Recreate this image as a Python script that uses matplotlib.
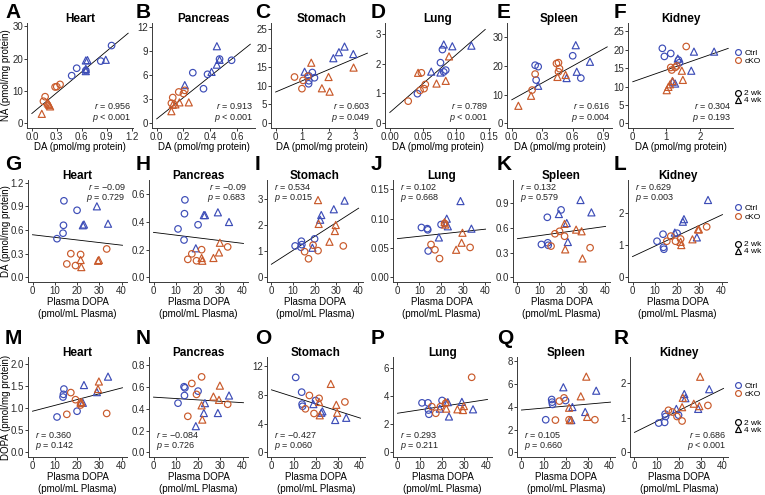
import numpy as np
import matplotlib
matplotlib.use('Agg')
import matplotlib.pyplot as plt
from matplotlib.lines import Line2D

plt.rcParams['font.family'] = ['Liberation Sans', 'DejaVu Sans']
plt.rcParams['mathtext.fontset'] = 'custom'
plt.rcParams['mathtext.it'] = 'Liberation Sans:italic'
plt.rcParams['mathtext.rm'] = 'Liberation Sans'

# ---------------- data (group order: Ctrl 2wk, Ctrl 4wk, cKO 2wk, cKO 4wk) ----------------
tissues = ['Heart', 'Pancreas', 'Stomach', 'Lung', 'Spleen', 'Kidney']
letters = ['A', 'B', 'C', 'D', 'E', 'F', 'G', 'H', 'I', 'J', 'K', 'L', 'M', 'N', 'O', 'P', 'Q', 'R']
group_labels = ['Ctrl', 'cKO']
age_labels = ['2 wk', '4 wk']

nan = np.nan
# Row 1: NA vs DA
A_da = [[0.48, 0.54, 0.65, 0.83, 0.96], [0.65, 0.67, 0.65, 0.65, 0.89], [0.14, 0.16, 0.28, 0.30, 0.34], [0.12, 0.19, 0.20, 0.21, 0.22]]
A_na = [[14.7, 17.0, 16.3, 19.2, 24.0], [19.4, 19.5, 16.8, 16.1, 19.6], [6.8, 8.2, 11.2, 11.3, 12.0], [2.9, 6.4, 6.0, 5.6, 5.2]]
B_da = [[0.27, 0.35, 0.38, 0.47, 0.56], [0.21, 0.41, 0.45, 0.45, 0.47], [0.11, 0.12, 0.165, 0.20, 0.21], [0.11, 0.12, 0.14, 0.17, 0.24]]
B_na = [[6.3, 4.3, 6.1, 8.0, 7.85], [4.75, 6.4, 7.3, 9.6, 7.9], [2.5, 3.2, 3.9, 3.7, 4.1], [1.5, 2.3, 2.35, 2.6, 2.6]]
C_da = [[1.24, 1.25, 1.25, 1.38, 1.46], [1.09, 2.17, 2.38, 2.59, 2.92], [0.71, 0.99, 1.03, 1.21], [1.34, 1.74, 1.99, 2.03, 2.93]]
C_na = [[10.5, 11.3, 12.6, 13.5, 12.1], [13.7, 17.3, 18.9, 20.4, 18.4], [12.3, 9.2, 11.4, 12.5], [16.1, 9.3, 12.3, 8.4, 14.8]]
D_da = [[0.042, 0.077, 0.080, 0.082, 0.085], [0.063, 0.077, 0.082, 0.095, 0.124], [0.028, 0.046, 0.048, 0.052, 0.054], [0.043, 0.071, 0.085, 0.090]]
D_na = [[0.99, 2.03, 2.47, 1.72, 1.78], [1.73, 1.70, 2.64, 2.58, 2.60], [0.74, 1.10, 1.69, 1.16, 1.30], [1.69, 1.33, 1.42, 2.24]]
E_da = [[0.23, 0.26, 0.24, 0.60, 0.68], [0.26, 0.54, 0.64, 0.77, 0.63], [0.20, 0.23, 0.44, 0.46, 0.47, 0.46], [0.065, 0.19, 0.45, 0.53]]
E_na = [[20.3, 19.8, 15.1, 23.6, 15.8], [13.1, 15.8, 18.0, 21.5, 27.3], [11.6, 17.2, 20.9, 21.2, 19.1, 18.0], [6.1, 9.6, 16.2, 16.9]]
F_da = [[0.88, 0.94, 1.13, 1.36, 1.39], [1.19, 1.26, 1.34, 1.74, 1.82, 2.42], [1.13, 1.16, 1.26, 1.31, 1.59], [1.01, 1.06, 1.11, 1.18, 1.46, 1.49]]
F_na = [[20.4, 18.2, 19.0, 17.2, 16.5], [11.3, 10.8, 17.6, 14.3, 19.5, 19.5], [15.2, 14.5, 15.2, 15.6, 20.9], [9.0, 9.9, 10.6, 11.5, 14.3, 11.8]]

# Rows 2-3: x = plasma DOPA
plasma_dopa = [[11.0, 13.7, 13.9, 14.1, 20.0], [19.0, 22.6, 23.1, 28.9, 33.9], [15.4, 17.2, 19.3, 21.6, 33.3], [21.6, 21.9, 26.9, 29.4, 29.8]]
# Row 2: tissue DA
G_da = [[0.49, 0.56, 0.66, 0.97, 0.85], [nan, 0.66, 0.67, 0.90, 0.68], [0.17, 0.30, 0.15, 0.29, 0.36], [0.22, 0.13, nan, 0.21, 0.22]]
H_da = [[0.35, 0.27, 0.46, 0.56, 0.38], [0.21, 0.45, 0.45, 0.47, 0.40], [0.13, 0.17, 0.12, 0.20, 0.22], [0.14, 0.12, 0.14, 0.18, 0.25]]
I_da = [[1.20, 1.15, 1.38, 1.25, 1.47], [1.13, 2.20, 2.38, 2.60, 2.93], [0.98, 0.71, 1.23, 1.02, 1.20], [2.95, 2.04, 1.36, 1.77, 2.00]]
J_da = [[0.085, 0.083, 0.081, 0.045, 0.090], [0.068, 0.100, 0.087, 0.130, 0.083], [0.056, 0.047, 0.032, 0.092, 0.051], [0.094, 0.090, 0.047, 0.059, 0.076]]
K_da = [[0.40, 0.73, 0.42, 0.39, 0.82], [0.77, 0.66, 0.43, 0.94, 0.79], [0.38, 0.53, 0.56, 0.50, 0.36], [0.65, 0.34, 0.58, 0.56, 0.23]]
L_da = [[1.13, 1.35, 0.94, 0.88, 1.38], [1.40, 1.74, 1.82, 1.25, 2.42], [1.13, 1.29, 1.13, 1.20, 1.58], [1.11, 1.01, 1.19, 1.50, 1.50]]
# Row 3: tissue DOPA
M_dopa = [[0.80, 1.25, 1.31, 1.43, 0.93], [nan, 1.12, 1.52, 1.36, 1.71], [0.86, 1.35, 1.19, 1.07, 0.88], [1.12, 1.14, nan, 1.43, 1.60]]
N_dopa = [[0.45, 0.60, 0.52, 0.59, 0.56], [0.24, 0.36, 0.45, 0.36, 0.52], [0.33, 0.63, 0.53, 0.69, 0.44], [0.43, 0.30, 0.51, 0.48, 0.61]]
O_dopa = [[10.4, 8.36, 6.7, 6.4, 7.2], [6.7, 5.5, 5.7, 4.5, 4.8], [6.05, 7.9, 5.4, 7.5, 7.0], [7.0, 5.15, 9.5, 6.6, 5.5]]
P_dopa = [[3.53, 3.53, 3.02, 2.72, 3.70], [3.12, 3.58, 2.56, 3.60, 3.07], [3.26, 2.79, 3.26, 3.50, 5.35], [3.58, 3.12, 3.07, 3.02, 3.30]]
Q_dopa = [[2.86, 4.63, 4.40, 4.20, 4.54], [5.70, 2.83, 3.97, 3.54, 5.40], [2.83, 4.49, 4.77, 2.86, 2.86], [3.91, 2.83, 4.91, 6.63, 3.11]]
R_dopa = [[0.85, 0.87, 1.11, 1.04, 1.08], [1.26, 1.69, 1.57, 1.26, 1.83], [1.22, 1.17, 1.04, 0.91, 1.36], [1.31, 1.58, 1.41, 1.34, 2.19]]

# regression lines (intercept, slope)
fit_intercept = [3.0, 0.54, 8.3, 0.36, 8.2, 11.3,
                 0.54, 0.325, 0.50, 0.066, 0.47, 0.65,
                 0.93, 0.505, 8.68, 2.79, 3.71, 0.58]
fit_slope = [21.4, 13.3, 3.0, 19.2, 19.7, 3.2,
             -0.0033, -0.00198, 0.053, 0.0004, 0.0037, 0.0325,
             0.0131, -0.00126, -0.0973, 0.0243, 0.0171, 0.0315]

r_values = ['0.956', '0.913', '0.603', '0.789', '0.616', '0.304',
            '\u22120.09', '\u22120.09', '0.534', '0.102', '0.132', '0.629',
            '0.360', '\u22120.084', '\u22120.427', '0.293', '0.105', '0.686']
p_values = ['< 0.001', '< 0.001', '= 0.049', '< 0.001', '= 0.004', '= 0.193',
            '= 0.729', '= 0.683', '= 0.015', '= 0.668', '= 0.579', '= 0.003',
            '= 0.142', '= 0.726', '= 0.060', '= 0.211', '= 0.660', '< 0.001']

row1_x = [A_da, B_da, C_da, D_da, E_da, F_da]
row1_y = [A_na, B_na, C_na, D_na, E_na, F_na]
row2_y = [G_da, H_da, I_da, J_da, K_da, L_da]
row3_y = [M_dopa, N_dopa, O_dopa, P_dopa, Q_dopa, R_dopa]

# ---------------- layout / style ----------------
W, H = 765, 495
fig = plt.figure(figsize=(W / 100, H / 100), dpi=100)

CTRL = '#3D4DB7'
CKO = '#C95A2B'
AX_COL = '#3a3a3a'

rows_tb = [(23, 128), (180, 282), (357, 457)]
cols = [
    [(27, 133), (152, 255), (271, 372), (385, 490), (507, 612), (628, 733)],
    [(28, 127), (149, 248), (267, 363), (393, 490), (513, 610), (628, 727)],
    [(28, 127), (149, 248), (267, 365), (393, 492), (517, 615), (630, 728)],
]
x_max = [1.16, 0.70, 3.45, 0.145, 0.94, 2.84] + [40.4] * 12
y_max = [29.5, 11.9, 25.4, 3.2, 33.4, 26.0,
         1.175, 0.67, 3.54, 0.158, 1.127, 2.9,
         2.05, 0.83, 12.6, 6.47, 7.95, 2.63]
x_ticks = [[0, 0.3, 0.6, 0.9, 1.2], [0, 0.2, 0.4, 0.6], [0, 1, 2, 3], [0, 0.05, 0.10, 0.15],
           [0, 0.3, 0.6, 0.9], [0, 1, 2]] + [[0, 10, 20, 30, 40]] * 12
x_dec = [1, 1, 0, 2, 1, 0] + [0] * 12
y_ticks = [[0, 10, 20, 30], [0, 3, 6, 9, 12], [0, 5, 10, 15, 20, 25], [0, 1, 2, 3], [0, 10, 20, 30],
           [0, 5, 10, 15, 20, 25],
           [0, 0.3, 0.6, 0.9, 1.2], [0, 0.2, 0.4, 0.6], [0, 1, 2, 3], [0, 0.05, 0.10, 0.15],
           [0, 0.3, 0.6, 0.9], [0, 1, 2],
           [0, 0.5, 1.0, 1.5, 2.0], [0, 0.2, 0.4, 0.6, 0.8], [0, 4, 8, 12], [0, 2, 4, 6],
           [0, 2, 4, 6, 8], [0, 1, 2]]
y_dec = [0, 0, 0, 0, 0, 0, 1, 1, 0, 2, 1, 0, 1, 1, 0, 0, 0, 0]
stat_pos = ['br'] * 6 + ['tr', 'tr', 'tl', 'tl', 'tl', 'tl'] + ['bl'] * 5 + ['br']
y_labels = ['NA (pmol/mg protein)', 'DA (pmol/mg protein)', 'DOPA (pmol/mg protein)']
letter_x = [5, 136, 255, 371, 497, 614]
letter_y = [13, 164, 338]
xlabel_offset = [19, 26, 26]   # px below the x axis line (centre of label block)
ylabel_x = 6                   # px from left edge (centre of label)


def panel(idx, xs_groups, ys_groups):
    row, col = divmod(idx, 6)
    t, b = rows_tb[row]
    l, r = cols[row][col]
    ax = fig.add_axes([l / W, 1 - b / H, (r - l) / W, (b - t) / H])
    for g, (xs, ys) in enumerate(zip(xs_groups, ys_groups)):
        color = CTRL if g < 2 else CKO
        marker = 'o' if g % 2 == 0 else '^'
        ax.scatter(np.array(xs, float), np.array(ys, float), s=22 if marker == 'o' else 26,
                   marker=marker, facecolors='none', edgecolors=color, linewidths=0.85, zorder=3)
    xm, ym = x_max[idx], y_max[idx]
    xl = np.array([0.0, xm])
    ax.plot(xl, fit_intercept[idx] + fit_slope[idx] * xl, color='black', lw=0.6, zorder=2)
    ax.set_xlim(-0.05 * xm, 1.05 * xm)
    ax.set_ylim(-0.05 * ym, 1.05 * ym)
    ax.set_xticks(x_ticks[idx], [f'{v:.{x_dec[idx]}f}' for v in x_ticks[idx]])
    ax.set_yticks(y_ticks[idx], [f'{v:.{y_dec[idx]}f}' for v in y_ticks[idx]])
    for s in ['top', 'right']:
        ax.spines[s].set_visible(False)
    for s in ['left', 'bottom']:
        ax.spines[s].set_color(AX_COL)
        ax.spines[s].set_linewidth(0.7)
    ax.tick_params(length=2.0, width=0.7, color=AX_COL, labelsize=7, labelcolor='#2a2a2a', pad=0.8)
    ax.patch.set_alpha(0)
    # title
    ax.annotate(tissues[col], xy=(0.5, 1.0), xycoords='axes fraction', xytext=(0, 2.8),
                textcoords='offset points', ha='center', va='center', fontsize=8.5, fontweight='bold')
    # x label
    if row == 0:
        ax.set_xlabel('DA (pmol/mg protein)', fontsize=7, va='center')
    else:
        ax.set_xlabel('Plasma DOPA\n(pmol/mL Plasma)', fontsize=7, linespacing=1.15, va='center')
    ax.xaxis.set_label_coords(0.5, -xlabel_offset[row] / (b - t))
    if col == 0:
        ax.set_ylabel(y_labels[row], fontsize=7, va='center')
        ax.yaxis.set_label_coords((ylabel_x - l) / (r - l), 0.5)
    # stats text
    pos = stat_pos[idx]
    rt = r'$\mathit{r}$ = ' + r_values[idx]
    pt = r'$\mathit{p}$ ' + p_values[idx]
    if pos[0] == 'b':
        yr, yp = (0.21, 0.10) if row == 0 else (0.225, 0.105)
    else:
        yr, yp = 0.93, 0.82
    if pos[1] == 'r':
        xx, ha = 0.985, 'right'
    else:
        xx, ha = 0.07, 'left'
    ax.text(xx, yr, rt, transform=ax.transAxes, ha=ha, va='center', fontsize=6.5, color='#222222')
    ax.text(xx, yp, pt, transform=ax.transAxes, ha=ha, va='center', fontsize=6.5, color='#222222')
    # panel letter
    fig.text(letter_x[col] / W, 1 - letter_y[row] / H, letters[idx], fontsize=15,
             fontweight='bold', ha='left', va='center')
    return ax


for c in range(6):
    panel(c, row1_x[c], row1_y[c])
    panel(6 + c, plasma_dopa, row2_y[c])
    panel(12 + c, plasma_dopa, row3_y[c])

# legends
leg_color_y = [57, 212.5, 390]
leg_shape_y = [97, 248, 426.5]
for row in range(3):
    h_col = [Line2D([], [], ls='', marker='o', mfc='none', mec=CTRL, ms=4.2, mew=0.85),
             Line2D([], [], ls='', marker='o', mfc='none', mec=CKO, ms=4.2, mew=0.85)]
    fig.legend(h_col, group_labels, loc='center left', bbox_to_anchor=(735 / W, 1 - leg_color_y[row] / H),
               frameon=False, fontsize=6, handlelength=0.7, handletextpad=0.4, labelspacing=0.05,
               borderpad=0, borderaxespad=0)
    h_age = [Line2D([], [], ls='', marker='o', mfc='none', mec='black', ms=4.2, mew=0.85),
             Line2D([], [], ls='', marker='^', mfc='none', mec='black', ms=4.6, mew=0.85)]
    fig.legend(h_age, age_labels, loc='center left', bbox_to_anchor=(735 / W, 1 - leg_shape_y[row] / H),
               frameon=False, fontsize=6, handlelength=0.7, handletextpad=0.4, labelspacing=-0.1,
               borderpad=0, borderaxespad=0)

fig.savefig('out.png', dpi=100)
